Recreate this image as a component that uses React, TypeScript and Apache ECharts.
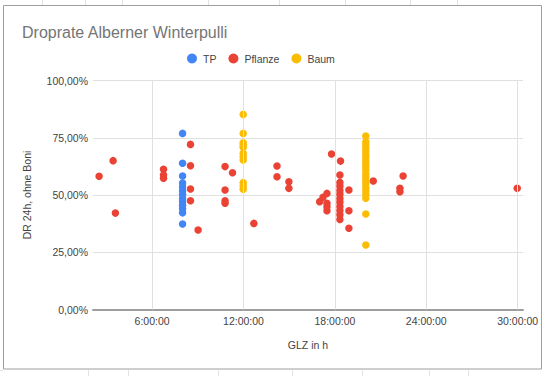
import React, { useEffect, useRef } from "react";
import * as echarts from "echarts";

const chartTitle = "Droprate Alberner Winterpulli";
const xAxisName = "GLZ in h";
const yAxisName = "DR 24h, ohne Boni";
const seriesNames = ["TP", "Pflanze", "Baum"];
const seriesColors = ["#4285F4", "#EA4335", "#FBBC04"];
const xTickHours = [6, 12, 18, 24, 30];

// TP
const tpHours = [8.0, 8.0, 8.0, 8.0, 8.0, 8.0, 8.0, 8.0, 8.0, 8.0, 8.0, 8.0, 8.0];
const tpRates = [76.9, 63.9, 58.3, 55.2, 53.5, 51.9, 50.2, 48.5, 47.0, 45.5, 44.0, 42.2, 37.3];

// Pflanze
const pflanzeHours = [
  2.52, 3.44, 3.59, 6.75, 6.75, 6.75, 8.52, 8.52, 8.52, 8.52, 9.02, 10.79, 10.79, 10.79, 10.79,
  11.28, 12.68, 14.2, 14.2, 14.98, 14.98, 17.0, 17.22, 17.48, 17.48, 17.48, 17.48, 17.78, 18.37,
  18.33, 18.33, 18.33, 18.33, 18.33, 18.33, 18.33, 18.33, 18.33, 18.33, 18.33, 18.92, 18.92, 18.92,
  20.52, 22.27, 22.27, 22.48, 29.97,
];
const pflanzeRates = [
  58.2, 65.0, 42.1, 61.2, 58.7, 57.3, 72.1, 62.8, 52.6, 47.5, 34.7, 62.4, 52.2, 47.5, 46.4,
  59.7, 37.6, 62.7, 58.0, 55.8, 52.9, 47.1, 49.0, 50.7, 46.4, 44.9, 43.1, 67.9, 64.8,
  58.7, 55.5, 53.8, 52.0, 50.3, 48.5, 46.8, 45.0, 43.2, 41.4, 39.3, 52.2, 43.1, 35.5,
  56.1, 52.9, 51.4, 58.3, 52.9,
];

// Baum
const baumHours = [
  11.98, 11.98, 11.98, 11.98, 11.98, 11.98, 11.98, 11.98, 11.98, 11.98, 11.98,
  20.03, 20.03, 20.03, 20.03, 20.03, 20.03, 20.03, 20.03, 20.03, 20.03, 20.03, 20.03, 20.03, 20.03,
  20.03, 20.03, 20.03, 20.03, 20.03, 20.03, 20.03,
];
const baumRates = [
  85.2, 76.9, 72.8, 71.8, 70.8, 68.2, 66.7, 65.3, 55.4, 53.9, 52.5,
  75.8, 73.2, 71.9, 70.4, 69.1, 67.6, 66.3, 64.9, 63.4, 62.0, 60.7, 59.1, 57.8, 56.2,
  54.9, 53.3, 51.8, 50.2, 48.6, 41.7, 28.2,
];

const zip = (xs: number[], ys: number[]) => xs.map((x, i) => [x, ys[i]]);

const FONT = "Arial, 'Liberation Sans', sans-serif";

export default function App() {
  const ref = useRef<HTMLDivElement>(null);
  useEffect(() => {
    if (!ref.current) return;
    const chart = echarts.init(ref.current, undefined, { renderer: "svg" });
    const pointSeries = [
      zip(tpHours, tpRates),
      zip(pflanzeHours, pflanzeRates),
      zip(baumHours, baumRates),
    ].map((data, i) => ({
      name: seriesNames[i],
      type: "scatter",
      data,
      symbol: "circle",
      symbolSize: 7.5,
      itemStyle: { color: seriesColors[i], opacity: 1 },
      z: 3,
    }));
    const topLines = [42, 85, 122, 208, 279, 345, 410, 457];
    const bottomLines = [88, 128, 218, 292, 362, 429, 468];
    chart.setOption({
      animation: false,
      backgroundColor: "#ffffff",
      textStyle: { fontFamily: FONT },
      title: {
        text: chartTitle,
        left: 22,
        top: 24,
        padding: 0,
        textStyle: { fontSize: 16, fontWeight: "normal", color: "#757575", fontFamily: FONT },
      },
      legend: {
        data: seriesNames,
        left: 187,
        top: 53,
        padding: 0,
        itemGap: 12,
        itemWidth: 10,
        itemHeight: 10,
        icon: "circle",
        textStyle: { fontSize: 10.5, color: "#444", fontFamily: FONT, padding: [0, 0, 0, 1] },
      },
      grid: { left: 93, right: 25, top: 80.5, bottom: 66.5 },
      xAxis: {
        type: "value",
        min: 2.12,
        max: 30.35,
        name: xAxisName,
        nameLocation: "middle",
        nameGap: 30,
        nameTextStyle: { fontSize: 10.5, color: "#444", fontFamily: FONT },
        axisLine: { show: true, lineStyle: { color: "#9e9e9e", width: 2 } },
        axisTick: { show: false },
        splitLine: { show: false },
        axisLabel: {
          customValues: xTickHours,
          formatter: (v: number) => `${Math.round(v)}:00:00`,
          fontSize: 10.5,
          color: "#444",
          margin: 6,
          fontFamily: FONT,
        },
      },
      yAxis: {
        type: "value",
        min: 0,
        max: 100,
        interval: 25,
        name: yAxisName,
        nameLocation: "middle",
        nameGap: 61,
        nameTextStyle: { fontSize: 10.5, color: "#444", fontFamily: FONT },
        axisLine: { show: false },
        axisTick: { show: false },
        splitLine: { lineStyle: { color: "#e0e0e0", width: 1 } },
        axisLabel: {
          formatter: (v: number) => v.toFixed(2).replace(".", ",") + "%",
          fontSize: 10.5,
          color: "#444",
          margin: 5,
          fontFamily: FONT,
        },
      },
      series: [
        {
          name: "gridlines",
          type: "scatter",
          data: [],
          z: 1,
          silent: true,
          markLine: {
            silent: true,
            symbol: ["none", "none"],
            label: { show: false },
            lineStyle: { color: "#e0e0e0", width: 1, type: "solid" },
            emphasis: { disabled: true },
            data: xTickHours.map((h) => ({ xAxis: h })),
          },
        },
        ...pointSeries,
      ],
      graphic: [
        {
          type: "rect",
          shape: { x: 3.5, y: 5.5, width: 538, height: 363.5 },
          style: { fill: "none", stroke: "#9e9e9e", lineWidth: 1 },
          silent: true,
        },
        ...topLines.map((x) => ({
          type: "line",
          shape: { x1: x + 0.5, y1: 0, x2: x + 0.5, y2: 5 },
          style: { stroke: "#e2e2e2", lineWidth: 1 },
          silent: true,
        })),
        ...bottomLines.map((x) => ({
          type: "line",
          shape: { x1: x + 0.5, y1: 370, x2: x + 0.5, y2: 376 },
          style: { stroke: "#e2e2e2", lineWidth: 1 },
          silent: true,
        })),
        {
          type: "line",
          shape: { x1: 0, y1: 370.5, x2: 3, y2: 370.5 },
          style: { stroke: "#e2e2e2", lineWidth: 1 },
          silent: true,
        },
      ],
    });
    return () => chart.dispose();
  }, []);
  return (
    <div
      ref={ref}
      style={{ position: "fixed", left: 0, top: 0, width: 548, height: 376 }}
    />
  );
}
